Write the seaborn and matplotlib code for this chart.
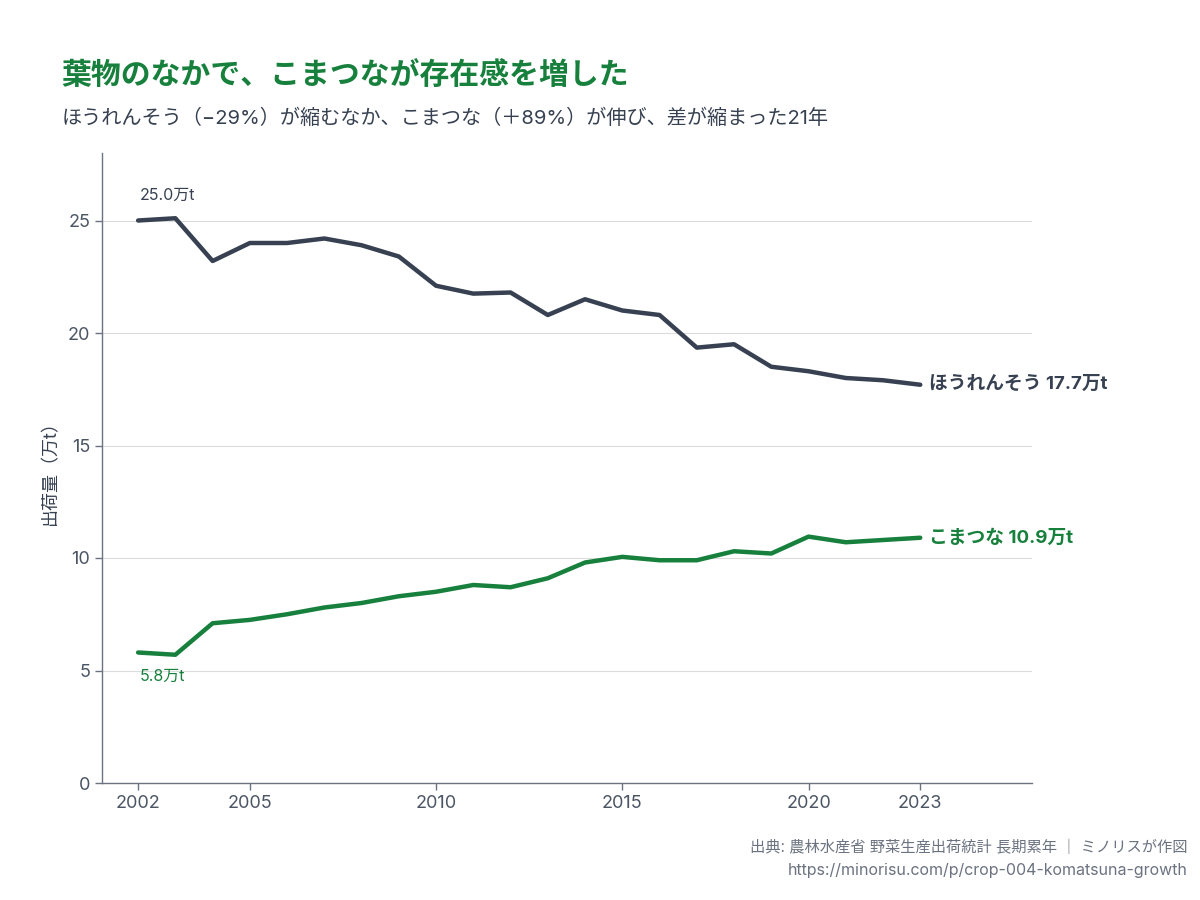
import numpy as np
import pandas as pd
import matplotlib
matplotlib.use("Agg")
import matplotlib.pyplot as plt
import seaborn as sns

# data (万t)
years = list(range(2002, 2024))
spinach = [25.0, 25.1, 23.2, 24.0, 24.0, 24.2, 23.9, 23.4, 22.1, 21.75, 21.8,
           20.8, 21.5, 21.0, 20.8, 19.35, 19.5, 18.5, 18.3, 18.0, 17.9, 17.7]
komatsuna = [5.8, 5.7, 7.1, 7.25, 7.5, 7.8, 8.0, 8.3, 8.5, 8.8, 8.7,
             9.1, 9.8, 10.05, 9.9, 9.9, 10.3, 10.2, 10.95, 10.7, 10.8, 10.9]
names = ["ほうれんそう", "こまつな"]
xticks = [2002, 2005, 2010, 2015, 2020, 2023]

DARK = "#374151"
GREEN = "#17803d"
GRAY = "#4b5563"

sns.set_theme(style="white")
plt.rcParams['font.family'] = ['Inter', 'Noto Sans CJK JP', 'DejaVu Sans']

df = pd.DataFrame({
    "year": years * 2,
    "value": spinach + komatsuna,
    "crop": [names[0]] * len(years) + [names[1]] * len(years),
})

fig = plt.figure(figsize=(12, 9), dpi=100)
ax = fig.add_axes([0.085, 0.13, 0.775, 0.70])

sns.lineplot(data=df, x="year", y="value", hue="crop",
             palette={names[0]: DARK, names[1]: GREEN},
             linewidth=3.2, legend=False, ax=ax)

ax.set_xlim(2001.03, 2026)
ax.set_ylim(0, 28)
ax.set_xticks(xticks)
ax.set_yticks([0, 5, 10, 15, 20, 25])
ax.yaxis.grid(True, color="#dcdcdc", linewidth=0.8)
ax.set_axisbelow(True)
for s in ["top", "right"]:
    ax.spines[s].set_visible(False)
for s in ["left", "bottom"]:
    ax.spines[s].set_color("#6b7280")
    ax.spines[s].set_linewidth(1.0)
ax.tick_params(axis="both", colors="#6b7280", labelcolor=GRAY, labelsize=13,
               length=5, width=1, bottom=True, left=True)
ax.set_xlabel("")
ax.set_ylabel("出荷量（万t）", fontsize=13, color=DARK, labelpad=6)

# labels
ax.annotate(f"{spinach[0]:.1f}万t", (years[0], spinach[0]), xytext=(1, 13),
            textcoords="offset points", fontsize=11.5, color=DARK, va="bottom")
ax.annotate(f"{komatsuna[0]:.1f}万t", (years[0], komatsuna[0]), xytext=(1, -12),
            textcoords="offset points", fontsize=11.5, color=GREEN, va="top")
ax.annotate(f"{names[0]} {spinach[-1]:.1f}万t", (years[-1], spinach[-1]), xytext=(6, 0),
            textcoords="offset points", fontsize=13.5, color=DARK, va="center",
            fontweight="bold")
ax.annotate(f"{names[1]} {komatsuna[-1]:.1f}万t", (years[-1], komatsuna[-1]), xytext=(6, 0),
            textcoords="offset points", fontsize=13.5, color=GREEN, va="center",
            fontweight="bold")

fig.text(0.051, 0.916, "葉物のなかで、こまつなが存在感を増した", fontsize=21.5,
         fontweight="bold", color=GREEN, va="center")
fig.text(0.051, 0.868, "ほうれんそう（−29%）が縮むなか、こまつな（＋89%）が伸び、差が縮まった21年",
         fontsize=14.5, color=DARK, va="center")
fig.text(0.99, 0.059, "出典: 農林水産省 野菜生産出荷統計 長期累年 ｜ ミノリスが作図",
         fontsize=11, color="#6b7280", ha="right", va="center")
fig.text(0.99, 0.033, "https://minorisu.com/p/crop-004-komatsuna-growth",
         fontsize=11.5, color="#6b7280", ha="right", va="center")

fig.savefig("out.png", dpi=100, facecolor="white")
